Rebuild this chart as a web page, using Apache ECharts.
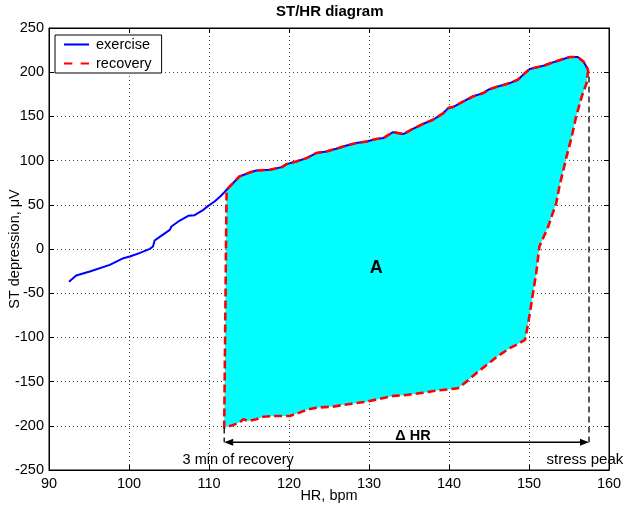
<!DOCTYPE html>
<html>
<head>
<meta charset="utf-8">
<title>ST/HR diagram</title>
<script src="https://cdn.jsdelivr.net/npm/echarts@6/dist/echarts.min.js"></script>
<style>
    html, body { margin: 0; padding: 0; background: #fff; }
    #chart { width: 625px; height: 506px; }
</style>
</head>
<body>
<div id="chart"></div>
<script>
// exercise branch: HR (bpm) / ST (uV), from start up to stress peak
const exHR = [92.5, 93.4, 95.1, 97.6, 99.3, 100.1, 101.3, 102.6, 103.0, 103.2, 103.8, 105.1, 105.3, 106.3,
    107.4, 108.2, 109.3, 109.9, 110.7, 111.4, 111.8, 112.2, 113.2, 113.8, 115.1, 115.9, 117.6, 119.1, 119.7,
    120.9, 122.2, 123.4, 124.7, 125.9, 127.2, 128.4, 129.7, 130.9, 131.8, 133.0, 134.3, 135.3, 136.8, 138.0,
    139.3, 139.9, 140.5, 141.8, 143.0, 144.3, 144.9, 145.9, 147.6, 148.6, 149.5, 150.1, 151.8, 153.0, 154.3,
    155.1, 156.1, 156.8, 157.4];
const exST = [-37, -30, -25.5, -18, -10.4, -8.5, -4.7, 0.2, 2.8, 9.6, 13.4, 21.7, 25.4, 31.9,
    37.5, 38.3, 44.3, 48.8, 53.7, 59.4, 63, 67, 76.4, 82, 86.5, 88.8, 89.6, 92.6, 96,
    99, 102.8, 108.5, 110.4, 113.4, 117.1, 119.8, 121.6, 124.4, 125.5, 132.2, 130, 135, 141.7, 146.2,
    153.8, 159.4, 160.6, 166.9, 172.6, 176.4, 180.2, 183.2, 187.7, 191.5, 199, 203.6, 207.3, 211.1, 214.9,
    217.2, 217.2, 212.2, 202.8];

// recovery branch: from stress peak back down to 3 min of recovery
const recHR = [157.4, 157.2, 156.6, 155.9, 155.3, 154.7, 153.8, 153.4, 152.4, 151.3, 150.9, 150.3, 149.9,
    149.5, 148.8, 147.6, 146.3, 144.7, 143.4, 142.2, 141.1, 140.1, 138.4, 136.8, 134.7, 133.0, 131.3, 129.7,
    127.6, 125.5, 123.4, 122.2, 121.3, 120.1, 118.4, 116.8, 115.9, 114.9, 114.3, 113.8, 112.8, 111.9];
const recST = [202.8, 187.7, 172.6, 150, 125.5, 104.7, 70.7, 51.9, 25.4, 2.8, -27.3, -61.3, -84,
    -102.8, -106.6, -112.2, -119.8, -131.1, -140.5, -150, -157.5, -158.6, -160.2, -162.5, -165.1, -166.2, -169.6, -172.7,
    -175.3, -178.3, -179.5, -182, -185.1, -188.9, -188.9, -189.7, -192.6, -194.5, -192.6, -196.4, -199.8, -202.1];

// annotations
const peakHR = 157.5;
const peakLineTop = 195;
const recStartHR = 111.9;
const arrowST = -218.6;
const labelST = -238.8;

const FONT = "'Liberation Sans', Arial, Helvetica, sans-serif";

const exercise = exHR.map((h, i) => [h, exST[i]]);
const recovery = recHR.map((h, i) => [h, recST[i]]);
// closed outline of area A: recovery, then exercise from the 3-min HR up to peak
const outline = recovery.concat(exercise.filter(p => p[0] >= recHR[recHR.length - 1] - 0.1));

const myChart = echarts.init(document.getElementById("chart"));

const gridLine = { show: true, lineStyle: { color: "#444", type: [1, 3], width: 1 } };
const boxLine = { onZero: false, lineStyle: { color: "#000" } };
const tick = { inside: true, length: 5, lineStyle: { color: "#000" } };

const option = {
    animation: false,
    textStyle: { fontFamily: FONT },
    title: {
        text: "ST/HR diagram",
        left: 276,
        top: 4,
        padding: 0,
        textStyle: { fontSize: 15, fontWeight: "bold", color: "#000", fontFamily: FONT },
    },
    legend: {
        data: [
            { name: "exercise", icon: "path://M0,0h24v2h-24z" },
            { name: "recovery", icon: "path://M0,0h8v2h-8z M16,0h8v2h-8z" },
        ],
        orient: "vertical",
        left: 55,
        top: 35,
        itemWidth: 25,
        itemHeight: 14,
        itemGap: 4,
        padding: [2, 10, 2, 9],
        borderColor: "#000",
        borderWidth: 1,
        backgroundColor: "#fff",
        textStyle: { fontSize: 14.5, color: "#000", padding: [0, 0, 0, 2] },
    },
    grid: {
        left: 49,
        right: 16,
        top: 28,
        bottom: 36,
        containLabel: false,
        outerBoundsMode: "none",
        show: true,
        borderColor: "#000",
        borderWidth: 1,
    },
    xAxis: [
        {
            type: "value",
            min: 90,
            max: 160,
            interval: 10,
            name: "HR, bpm",
            nameLocation: "middle",
            nameGap: 18,
            nameMoveOverlap: false,
            nameTextStyle: { fontSize: 14.5, color: "#000", verticalAlign: "top" },
            axisLine: boxLine,
            axisTick: tick,
            axisLabel: { fontSize: 14.5, color: "#000", margin: 6 },
            splitLine: gridLine,
        },
        {
            type: "value",
            position: "top",
            min: 90,
            max: 160,
            interval: 10,
            axisLine: boxLine,
            axisTick: tick,
            axisLabel: { show: false },
            splitLine: { show: false },
        },
    ],
    yAxis: [
        {
            type: "value",
            min: -250,
            max: 250,
            interval: 50,
            name: "ST depression, \u03bcV",
            nameLocation: "middle",
            nameGap: 27,
            nameMoveOverlap: false,
            nameTextStyle: { fontSize: 14.5, color: "#000", verticalAlign: "bottom" },
            axisLine: boxLine,
            axisTick: tick,
            axisLabel: { fontSize: 14.5, color: "#000", margin: 5 },
            splitLine: gridLine,
        },
        {
            type: "value",
            position: "right",
            min: -250,
            max: 250,
            interval: 50,
            axisLine: boxLine,
            axisTick: tick,
            axisLabel: { show: false },
            splitLine: { show: false },
        },
    ],
    series: [
        {
            // cyan area A
            type: "custom",
            z: 1,
            data: [0],
            silent: true,
            renderItem: function (params, api) {
                return {
                    type: "polygon",
                    shape: { points: outline.map(p => api.coord(p)) },
                    style: { fill: "#00ffff", stroke: null },
                };
            },
        },
        {
            name: "exercise",
            type: "line",
            z: 3,
            data: exercise,
            symbol: "none",
            lineStyle: { color: "#0000ff", width: 2 },
            itemStyle: { color: "#0000ff" },
        },
        {
            name: "recovery",
            type: "line",
            z: 4,
            data: outline,
            symbol: "none",
            lineStyle: { color: "#ff0000", width: 2.6, type: [8, 4] },
            itemStyle: { color: "#ff0000" },
        },
        {
            // annotations: peak line, delta HR arrow, labels
            type: "custom",
            z: 5,
            clip: false,
            silent: true,
            data: [0],
            renderItem: function (params, api) {
                const top = api.coord([peakHR, peakLineTop]);
                const bot = api.coord([peakHR, arrowST]);
                const stubA = api.coord([recStartHR, -202]);
                const stubB = api.coord([recStartHR, arrowST]);
                const a1 = api.coord([recStartHR, arrowST]);
                const a2 = api.coord([peakHR, arrowST]);
                const aw = 9, ah = 3.5;
                const dh = api.coord([135.5, -211.5]);
                const A = api.coord([130.9, -21.6]);
                const l1 = api.coord([106.7, labelST]);
                const l2 = api.coord([152.2, labelST]);
                return {
                    type: "group",
                    children: [
                        { type: "line", shape: { x1: top[0], y1: top[1], x2: bot[0], y2: bot[1] },
                          style: { stroke: "#000", lineWidth: 1.3, lineDash: [6, 4] } },
                        { type: "line", shape: { x1: stubA[0], y1: stubA[1], x2: stubB[0], y2: stubB[1] },
                          style: { stroke: "#000", lineWidth: 1.3, lineDash: [6, 4] } },
                        { type: "line", shape: { x1: a1[0] + 2, y1: a1[1], x2: a2[0] - 2, y2: a2[1] },
                          style: { stroke: "#000", lineWidth: 1.3 } },
                        { type: "polygon", shape: { points: [[a1[0], a1[1]], [a1[0] + aw, a1[1] - ah], [a1[0] + aw, a1[1] + ah]] },
                          style: { fill: "#000" } },
                        { type: "polygon", shape: { points: [[a2[0], a2[1]], [a2[0] - aw, a2[1] - ah], [a2[0] - aw, a2[1] + ah]] },
                          style: { fill: "#000" } },
                        { type: "text", x: dh[0], y: dh[1],
                          style: { text: "\u0394 HR", fontSize: 14.5, fontWeight: "bold", fontFamily: FONT, fill: "#000",
                                   align: "center", verticalAlign: "middle" } },
                        { type: "text", x: A[0], y: A[1],
                          style: { text: "A", fontSize: 18, fontWeight: "bold", fontFamily: FONT, fill: "#000",
                                   align: "center", verticalAlign: "middle" } },
                        { type: "text", x: l1[0], y: l1[1],
                          style: { text: "3 min of recovery", fontSize: 14.5, fontFamily: FONT, fill: "#000",
                                   align: "left", verticalAlign: "middle" } },
                        { type: "text", x: l2[0], y: l2[1],
                          style: { text: "stress peak", fontSize: 15, fontFamily: FONT, fill: "#000",
                                   align: "left", verticalAlign: "middle" } },
                    ],
                };
            },
        },
    ],
};

myChart.setOption(option);
</script>
</body>
</html>
